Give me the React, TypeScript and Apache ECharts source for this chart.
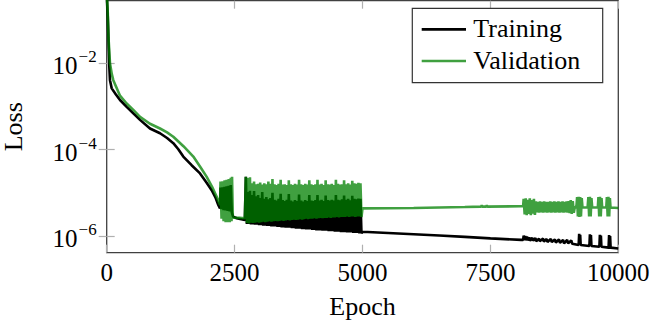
import React, { useEffect, useRef } from 'react';
import * as echarts from 'echarts';

type Pt = [number, number]; // [epoch, log10(loss)]

const FONT = 'Liberation Serif';

const xTicks = [0, 2500, 5000, 7500, 10000];
const yTickExponents = [-6, -4, -2];
const yRangeExponents = [-6.387, -0.549];
const seriesNames = ['Training', 'Validation'];
const seriesColors = ['#000000', 'rgb(0,128,0)'];
const seriesOpacity = [1, 0.75];

// ---------- Training (log10 of loss) ----------
const trainHead: Pt[] = [
  [0, -0.4], [20, -0.9], [31, -1.3], [51, -2.08], [64, -2.39], [98, -2.58], [180, -2.72],
  [260, -2.85], [390, -3.01], [520, -3.16], [651, -3.31], [846, -3.51], [1042, -3.62],
  [1180, -3.73], [1302, -3.85], [1400, -3.99], [1497, -4.16], [1660, -4.36], [1824, -4.55],
  [1950, -4.76], [2052, -4.94], [2130, -5.12], [2181, -5.28], [2215, -5.36],
];
const trainBurst1: Pt[] = [
  [2225, -4.88], [2245, -5.38], [2265, -4.87], [2285, -5.40], [2305, -4.86], [2325, -5.41],
  [2345, -4.85], [2365, -5.42], [2385, -4.84], [2405, -5.43], [2425, -4.82], [2445, -5.45],
];
const trainGap: Pt[] = [[2470, -5.55], [2541, -5.59], [2700, -5.63]];

const burst2Peaks = [
  2720, 2760, 2800, 2840, 2880, 2920, 2960, 3000, 3040, 3080,
  3120, 3160, 3200, 3240, 3280, 3320, 3360, 3400, 3440, 3480,
  3520, 3560, 3600, 3640, 3680, 3720, 3760, 3800, 3840, 3880,
  3920, 3960, 4000, 4040, 4080, 4120, 4160, 4200, 4240, 4280,
  4320, 4360, 4400, 4440, 4480, 4520, 4560, 4600, 4640, 4680,
  4720, 4760, 4800, 4840, 4880, 4920, 4960,
];
const trainBurst2Hi = [
  -4.63, -4.98, -4.95, -5.05, -4.96, -5.08, -5.05, -5.12, -4.98, -5.14,
  -5.10, -5.15, -5.12, -5.00, -5.16, -5.18, -5.14, -5.02, -5.17, -5.19,
  -5.16, -5.03, -5.18, -5.20, -5.17, -5.19, -5.04, -5.18, -5.20, -5.17,
  -5.19, -5.05, -5.18, -5.19, -5.17, -5.05, -5.18, -5.16, -5.19, -5.06,
  -5.17, -5.18, -5.16, -5.18, -5.05, -5.16, -5.17, -5.15, -5.06, -5.16,
  -5.14, -5.17, -5.07, -5.14, -5.15, -5.13, -5.14,
];
const trainBurst2Lo = [
  -5.72, -5.72, -5.73, -5.73, -5.74, -5.74, -5.75, -5.75, -5.76, -5.76,
  -5.77, -5.77, -5.78, -5.78, -5.78, -5.79, -5.79, -5.80, -5.80, -5.81,
  -5.81, -5.81, -5.82, -5.82, -5.83, -5.83, -5.83, -5.84, -5.84, -5.85,
  -5.85, -5.85, -5.86, -5.86, -5.87, -5.87, -5.87, -5.88, -5.88, -5.88,
  -5.89, -5.89, -5.89, -5.90, -5.90, -5.90, -5.91, -5.91, -5.91, -5.92,
  -5.92, -5.92, -5.93, -5.93, -5.93, -5.94, -5.94,
];
const trainTail: Pt[] = [
  [5000, -5.9], [5500, -5.93], [6000, -5.96], [6500, -5.99], [7000, -6.02], [7500, -6.055],
  [8100, -6.09], [8140, -6.09], [8150, -5.99], [8165, -6.1], [8180, -6.0], [8195, -6.1],
  [8215, -6.01], [8230, -6.1], [8260, -6.03], [8275, -6.11], [8320, -6.04], [8335, -6.11],
  [8380, -6.05], [8395, -6.12], [8450, -6.06], [8465, -6.12], [8530, -6.06], [8545, -6.13],
  [8600, -6.07], [8615, -6.14], [8680, -6.07], [8700, -6.14], [8760, -6.08], [8780, -6.15],
  [8840, -6.08], [8860, -6.16], [8920, -6.09], [8940, -6.17], [9000, -6.09], [9020, -6.17],
  [9080, -6.1], [9100, -6.18], [9150, -6.19], [9225, -6.21], [9235, -5.95], [9245, -6.21],
  [9255, -5.97], [9265, -6.21], [9435, -6.23], [9445, -5.96], [9455, -6.23], [9465, -5.98],
  [9475, -6.23], [9630, -6.25], [9640, -5.97], [9650, -6.25], [9660, -5.99], [9670, -6.25],
  [9810, -6.27], [9820, -5.98], [9830, -6.27], [9840, -6.0], [9850, -6.27], [10000, -6.29],
];

// ---------- Validation (log10 of loss) ----------
const valHead: Pt[] = [
  [0, -0.35], [20, -0.8], [35, -1.4], [64, -2.0], [100, -2.25], [129, -2.39], [260, -2.75],
  [390, -2.93], [520, -3.08], [651, -3.24], [846, -3.4], [1042, -3.51], [1180, -3.6],
  [1302, -3.7], [1500, -3.92], [1693, -4.16], [1830, -4.4], [1955, -4.63], [2060, -4.86],
  [2150, -5.09], [2215, -5.28],
];
const valBurst1: Pt[] = [
  [2225, -4.74], [2245, -5.6], [2265, -4.73], [2285, -5.66], [2305, -4.71], [2325, -5.68],
  [2345, -4.7], [2365, -5.68], [2385, -4.68], [2405, -5.68], [2425, -4.65], [2440, -5.66],
  [2450, -4.63],
];
const valGap: Pt[] = [[2465, -5.57], [2600, -5.58], [2700, -5.59]];
const valBurst2Hi = [
  -4.63, -4.66, -4.64, -4.78, -4.74, -4.80, -4.79, -4.76, -4.81, -4.78,
  -4.80, -4.74, -4.79, -4.68, -4.80, -4.82, -4.79, -4.70, -4.81, -4.80,
  -4.82, -4.71, -4.80, -4.82, -4.79, -4.81, -4.70, -4.80, -4.82, -4.79,
  -4.81, -4.71, -4.80, -4.82, -4.80, -4.70, -4.81, -4.79, -4.82, -4.71,
  -4.80, -4.81, -4.79, -4.82, -4.70, -4.79, -4.81, -4.80, -4.71, -4.80,
  -4.78, -4.81, -4.72, -4.78, -4.79, -4.77, -4.78,
];
const valBurst2Lo = [
  -5.70, -5.71, -5.69, -5.70, -5.69, -5.68, -5.69, -5.68, -5.67, -5.68,
  -5.67, -5.66, -5.67, -5.66, -5.65, -5.66, -5.65, -5.64, -5.65, -5.64,
  -5.63, -5.64, -5.63, -5.62, -5.63, -5.62, -5.61, -5.62, -5.61, -5.60,
  -5.61, -5.60, -5.60, -5.59, -5.60, -5.59, -5.58, -5.59, -5.58, -5.58,
  -5.57, -5.58, -5.57, -5.57, -5.56, -5.57, -5.56, -5.56, -5.56, -5.55,
  -5.56, -5.55, -5.55, -5.56, -5.55, -5.55, -5.56,
];
const valTail: Pt[] = [
  [5000, -5.36], [6000, -5.35], [7000, -5.33], [7320, -5.32], [7330, -5.29], [7340, -5.32],
  [7420, -5.32], [7430, -5.29], [7440, -5.32], [8100, -5.31], [8140, -5.31],
  [8150, -5.14], [8170, -5.5], [8190, -5.13], [8210, -5.52], [8230, -5.16], [8250, -5.49],
  [8270, -5.13], [8290, -5.52], [8310, -5.17], [8330, -5.48], [8350, -5.14], [8370, -5.51],
  [8390, -5.2], [8410, -5.45], [8430, -5.21], [8450, -5.46], [8470, -5.2], [8490, -5.45],
  [8510, -5.21], [8530, -5.46], [8550, -5.2], [8570, -5.45], [8590, -5.21], [8610, -5.46],
  [8630, -5.21], [8650, -5.45], [8670, -5.2], [8690, -5.46], [8710, -5.21], [8730, -5.45],
  [8750, -5.2], [8770, -5.46], [8790, -5.21], [8810, -5.45], [8830, -5.2], [8850, -5.46],
  [8870, -5.21], [8890, -5.45], [8910, -5.2], [8930, -5.46], [8950, -5.21], [8970, -5.45],
  [8990, -5.2], [9010, -5.46], [9030, -5.19], [9050, -5.47], [9070, -5.17], [9090, -5.49],
  [9110, -5.19], [9130, -5.46], [9150, -5.33], [9180, -5.34],
  [9195, -5.1], [9210, -5.55], [9225, -5.09], [9240, -5.56], [9255, -5.1], [9270, -5.55],
  [9285, -5.12], [9300, -5.34], [9400, -5.34], [9415, -5.1], [9430, -5.55], [9445, -5.09],
  [9460, -5.55], [9475, -5.12], [9490, -5.34], [9600, -5.34], [9612, -5.1], [9627, -5.55],
  [9642, -5.09], [9657, -5.55], [9672, -5.12], [9685, -5.34], [9765, -5.34], [9777, -5.1],
  [9792, -5.55], [9807, -5.09], [9822, -5.55], [9835, -5.12], [9848, -5.34], [10000, -5.35],
];

function zigzag(peaks: number[], hi: number[], lo: number[]): Pt[] {
  const out: Pt[] = [];
  const n = Math.min(peaks.length, hi.length, lo.length);
  for (let i = 0; i < n; i++) {
    out.push([peaks[i], hi[i]]);
    out.push([peaks[i] + 20, lo[i]]);
  }
  return out;
}
const toLoss = (pts: Pt[]) => pts.map(([e, l]) => [e, Math.pow(10, l)]);

const trainData = toLoss([
  ...trainHead, ...trainBurst1, ...trainGap,
  ...zigzag(burst2Peaks, trainBurst2Hi, trainBurst2Lo), ...trainTail,
]);
const valData = toLoss([
  ...valHead, ...valBurst1, ...valGap,
  ...zigzag(burst2Peaks, valBurst2Hi, valBurst2Lo), ...valTail,
]);

export default function App() {
  const ref = useRef<HTMLDivElement>(null);
  useEffect(() => {
    if (!ref.current) return;
    const chart = echarts.init(ref.current, undefined, { renderer: 'svg' });
    const yMin = Math.pow(10, yRangeExponents[0]);
    const yMax = Math.pow(10, yRangeExponents[1]);
    const yTickVals = yTickExponents.map((e) => Math.pow(10, e));
    const tickStyle = { color: '#b0b0b0', width: 1.2 };
    const labelFmt = (v: number) => {
      const e = Math.round(Math.log10(v));
      return `{b|10}{s|−${Math.abs(e)}}`;
    };
    // legend drawn as graphic: box, line samples and labels
    const legendRowY = [29.3, 61];
    const legendItems: any[] = [];
    seriesNames.forEach((name, i) => {
      legendItems.push({
        type: 'line', z: 16,
        shape: { x1: 421.7, y1: legendRowY[i], x2: 466, y2: legendRowY[i] },
        style: { stroke: seriesColors[i], lineWidth: 2.7, opacity: seriesOpacity[i] },
      });
      legendItems.push({
        type: 'text', z: 16, x: 473.3, y: legendRowY[i] - 1,
        style: {
          text: name, fontSize: 26, fontFamily: FONT, fill: '#000',
          verticalAlign: 'middle', align: 'left',
        },
      });
    });
    chart.setOption({
      animation: false,
      backgroundColor: '#fff',
      textStyle: { fontFamily: FONT },
      grid: {
        left: 106.7, right: 34.7, top: 0.7, bottom: 76.3,
        show: true, borderColor: '#404040', borderWidth: 1.3,
        containLabel: false, outerBoundsMode: 'none',
      },
      xAxis: [
        {
          type: 'value', min: xTicks[0], max: xTicks[xTicks.length - 1], interval: 2500,
          position: 'bottom',
          axisLine: { show: false }, splitLine: { show: false },
          axisTick: { inside: true, length: 8, lineStyle: tickStyle },
          axisLabel: {
            margin: 7, color: '#000', fontSize: 25, fontFamily: FONT,
            formatter: (v: number) => String(v),
          },
          name: 'Epoch', nameLocation: 'middle', nameGap: 41,
          nameTextStyle: { color: '#000', fontSize: 26, fontFamily: FONT },
        },
        {
          type: 'value', min: xTicks[0], max: xTicks[xTicks.length - 1], interval: 2500,
          position: 'top',
          axisLine: { show: false }, splitLine: { show: false },
          axisTick: { inside: true, length: 8, lineStyle: tickStyle },
          axisLabel: { show: false },
        },
      ],
      yAxis: [
        {
          type: 'log', logBase: 10, min: yMin, max: yMax, position: 'left',
          axisLine: { show: false }, splitLine: { show: false },
          minorTick: { show: false }, minorSplitLine: { show: false },
          axisTick: { inside: true, length: 8, lineStyle: tickStyle, customValues: yTickVals },
          axisLabel: {
            customValues: yTickVals, margin: 10, formatter: labelFmt,
            rich: {
              b: { fontSize: 25, lineHeight: 30, verticalAlign: 'bottom', fontFamily: FONT, color: '#000' },
              s: { fontSize: 17, lineHeight: 17, verticalAlign: 'top', fontFamily: FONT, color: '#000', padding: [0, 0, 0, 1] },
            },
          },
          name: 'Loss', nameLocation: 'middle', nameGap: 80, nameRotate: 90,
          nameTextStyle: { color: '#000', fontSize: 26, fontFamily: FONT },
        },
        {
          type: 'log', logBase: 10, min: yMin, max: yMax, position: 'right',
          axisLine: { show: false }, splitLine: { show: false }, minorTick: { show: false },
          axisTick: { inside: true, length: 8, lineStyle: tickStyle, customValues: yTickVals },
          axisLabel: { show: false, customValues: yTickVals },
        },
      ],
      graphic: [
        {
          type: 'rect', z: 15,
          shape: { x: 412.3, y: 8.3, width: 190.4, height: 74.4 },
          style: { fill: '#fff', stroke: '#333', lineWidth: 1.2 },
        },
        ...legendItems,
      ],
      series: [
        {
          name: seriesNames[0], type: 'line', xAxisIndex: 0, yAxisIndex: 0,
          data: trainData, symbol: 'none', showSymbol: false, clip: true,
          color: seriesColors[0],
          lineStyle: { color: seriesColors[0], width: 2.6, opacity: seriesOpacity[0] },
        },
        {
          name: seriesNames[1], type: 'line', xAxisIndex: 0, yAxisIndex: 0,
          data: valData, symbol: 'none', showSymbol: false, clip: true,
          color: seriesColors[1],
          lineStyle: { color: seriesColors[1], width: 2.6, opacity: seriesOpacity[1] },
        },
      ],
    });
    return () => chart.dispose();
  }, []);
  return (
    <div
      ref={ref}
      style={{ position: 'fixed', left: 0, top: 0, width: 653, height: 329 }}
    />
  );
}
